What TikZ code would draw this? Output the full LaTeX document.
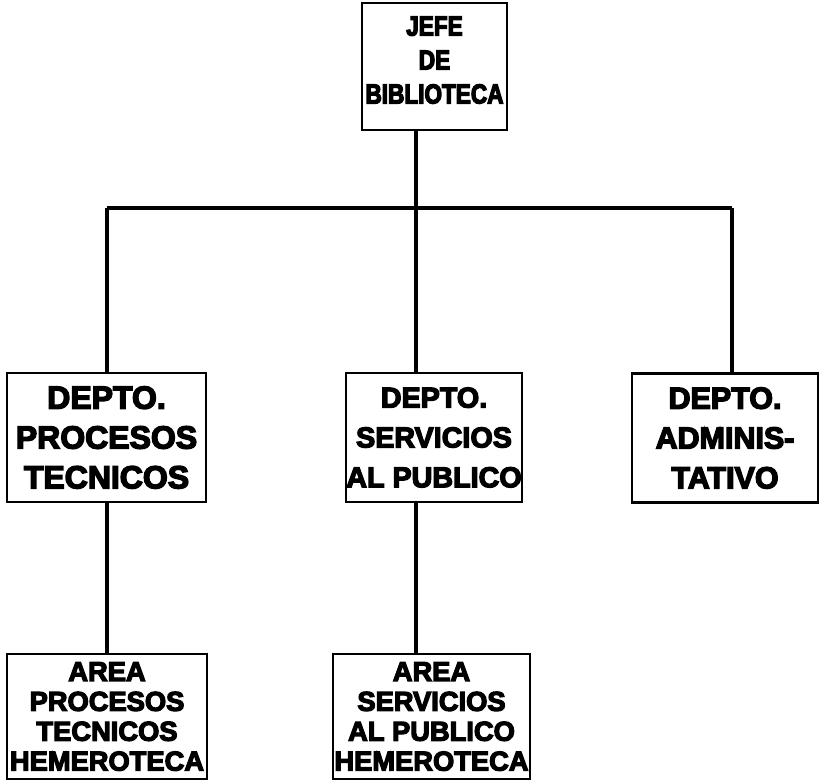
\documentclass[tikz,border=0pt]{standalone}
\usepackage{fontspec}
\setmainfont{Liberation Sans}[BoldFeatures={FakeBold=4.5}]
\newfontfamily\jefefont{Liberation Sans Bold}[FakeBold=4.5,FakeStretch=0.82]
\usepackage{tikz}
\usetikzlibrary{calc}

\begin{document}
\begin{tikzpicture}[x=0.03cm,y=-0.03cm,
  caja/.style={draw,line width=2pt,align=center,inner sep=0pt,
    font=\bfseries\fontsize{26}{34}\selectfont},
  area/.style={caja,font=\bfseries\fontsize{23.3}{25.5}\selectfont},
  linea/.style={line width=2.6pt}]
\useasboundingbox (0,0) rectangle (822,780);
\node[caja,minimum width=4.35cm,minimum height=3.81cm,text depth=11pt,
  font=\jefefont\fontsize{23.5}{29}\selectfont] (jefe) at (434.5,66.5) {JEFE\\DE\\BIBLIOTECA};
\node[caja,minimum width=5.97cm,minimum height=3.87cm,font=\bfseries\fontsize{27.3}{34}\selectfont] (procesos) at (106.5,437.5) {DEPTO.\\PROCESOS\\TECNICOS};
\node[caja,minimum width=5.22cm,minimum height=3.87cm,font=\bfseries\fontsize{24.5}{34}\selectfont] (servicios) at (434,437.5) {DEPTO.\\SERVICIOS\\AL PUBLICO};
\node[caja,minimum width=5.58cm,minimum height=3.87cm] (admin) at (725,438) {DEPTO.\\ADMINIS-\\TATIVO};
\node[area,minimum width=6cm,minimum height=3.75cm] (areaproc) at (107,716.5) {AREA\\PROCESOS\\TECNICOS\\HEMEROTECA};
\node[area,minimum width=5.91cm,minimum height=3.75cm] (areaserv) at (431.5,716.5) {AREA\\SERVICIOS\\AL PUBLICO\\HEMEROTECA};
\coordinate (tronco) at (416,208);
\coordinate (izq) at (107,208);
\coordinate (der) at (732,208);
\draw[linea] (tronco |- jefe.south) -- (tronco);
\draw[linea] (izq) -- (der);
\draw[linea] (izq) -- (izq |- procesos.north);
\draw[linea] (tronco) -- (tronco |- servicios.north);
\draw[linea] (der) -- (der |- admin.north);
\draw[linea] (izq |- procesos.south) -- (izq |- areaproc.north);
\draw[linea] (tronco |- servicios.south) -- (tronco |- areaserv.north);
\end{tikzpicture}
\end{document}
